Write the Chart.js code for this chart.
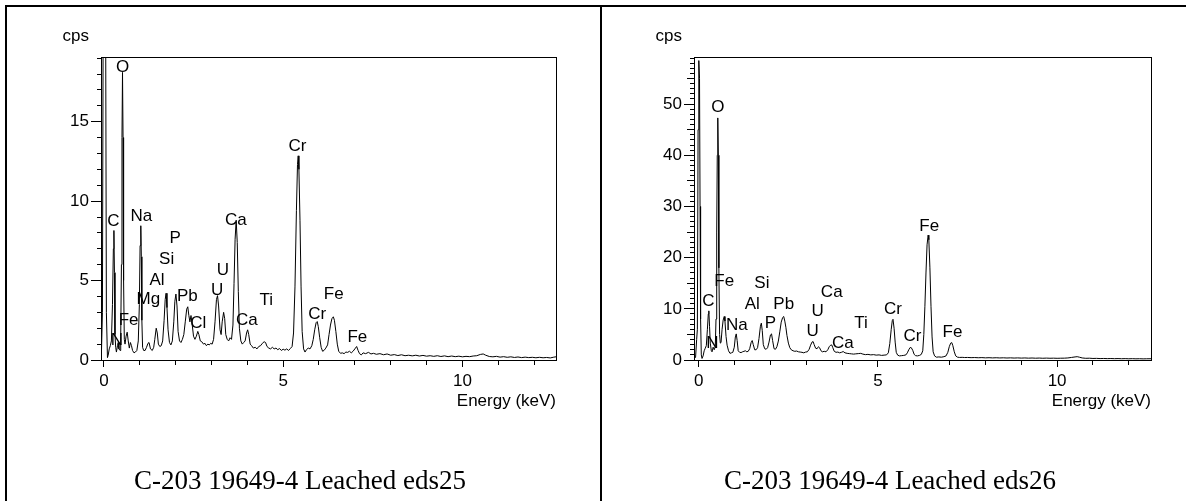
<!DOCTYPE html>
<html>
<head>
<meta charset="utf-8">
<script src="https://cdn.jsdelivr.net/npm/chart.js@4.4.1/dist/chart.umd.min.js"></script>
<style>
  html, body { margin: 0; padding: 0; background: #fff; }
  #page { position: relative; width: 1188px; height: 501px; overflow: hidden; }
  #page canvas { position: absolute; top: 0; }
  .rule { position: absolute; background: #000; }
  .caption {
    position: absolute; top: 464px; height: 32px; line-height: 32px;
    text-align: center; white-space: nowrap; color: #000;
    font-family: "Liberation Serif", "Times New Roman", serif; font-size: 27px;
  }
</style>
</head>
<body>
<div id="page">
  <canvas id="chart-eds25" width="600" height="420" style="left:0"></canvas>
  <canvas id="chart-eds26" width="588" height="420" style="left:600px"></canvas>
  <div class="rule" style="left:5px;top:5px;width:1181px;height:2px"></div>
  <div class="rule" style="left:5px;top:5px;width:2px;height:496px"></div>
  <div class="rule" style="left:600px;top:5px;width:2px;height:496px"></div>
  <div class="caption" style="left:0;width:600px">C-203 19649-4 Leached eds25</div>
  <div class="caption" style="left:596px;width:588px">C-203 19649-4 Leached eds26</div>
</div>
<script>
// --- eds25 spectrum (keV, cps) ---
const eds25Energy = [
  -0.07, -0.04, -0.01, 0.02, 0.04, 0.07, 0.1, 0.12, 0.15, 0.18, 0.21, 0.24, 0.265, 0.28, 0.295, 0.31,
  0.33, 0.35, 0.38, 0.4, 0.42, 0.45, 0.47, 0.49, 0.505, 0.52, 0.535, 0.55, 0.57, 0.59, 0.62, 0.65,
  0.68, 0.71, 0.74, 0.77, 0.8, 0.84, 0.88, 0.92, 0.96, 0.99, 1.01, 1.03, 1.045, 1.06, 1.08, 1.11,
  1.15, 1.19, 1.23, 1.26, 1.3, 1.35, 1.39, 1.42, 1.46, 1.49, 1.52, 1.56, 1.6, 1.64, 1.68, 1.71,
  1.735, 1.76, 1.79, 1.83, 1.87, 1.91, 1.95, 1.98, 2.01, 2.04, 2.07, 2.11, 2.15, 2.19, 2.23, 2.27,
  2.31, 2.34, 2.37, 2.4, 2.43, 2.46, 2.5, 2.54, 2.58, 2.62, 2.65, 2.69, 2.73, 2.78, 2.82, 2.86,
  2.9, 2.94, 2.98, 3.02, 3.06, 3.1, 3.14, 3.17, 3.2, 3.24, 3.27, 3.3, 3.34, 3.37, 3.4, 3.44,
  3.48, 3.52, 3.56, 3.6, 3.63, 3.66, 3.69, 3.72, 3.75, 3.78, 3.82, 3.86, 3.9, 3.94, 3.98, 4.01,
  4.04, 4.08, 4.12, 4.17, 4.22, 4.27, 4.32, 4.37, 4.42, 4.47, 4.51, 4.55, 4.6, 4.65, 4.7, 4.75,
  4.8, 4.85, 4.9, 4.95, 5.0, 5.05, 5.1, 5.15, 5.2, 5.25, 5.29, 5.33, 5.37, 5.4, 5.42, 5.44,
  5.47, 5.5, 5.53, 5.57, 5.61, 5.65, 5.7, 5.75, 5.8, 5.84, 5.88, 5.92, 5.95, 5.98, 6.02, 6.06,
  6.1, 6.14, 6.19, 6.24, 6.28, 6.32, 6.36, 6.4, 6.43, 6.47, 6.51, 6.55, 6.6, 6.65, 6.7, 6.75,
  6.8, 6.85, 6.9, 6.95, 7.0, 7.05, 7.09, 7.13, 7.18, 7.23, 7.3, 7.38, 7.45, 7.52, 7.6, 7.7,
  7.8, 7.9, 8.0, 8.1, 8.2, 8.3, 8.4, 8.5, 8.6, 8.7, 8.8, 8.9, 9.0, 9.1, 9.2, 9.3,
  9.4, 9.5, 9.6, 9.7, 9.8, 9.9, 10.0, 10.1, 10.2, 10.3, 10.4, 10.5, 10.58, 10.65, 10.75, 10.85,
  10.95, 11.05, 11.15, 11.25, 11.35, 11.45, 11.55, 11.65, 11.75, 11.85, 11.95, 12.05, 12.15, 12.25, 12.35, 12.45,
  12.55, 12.61
];
const eds25Cps = [
  0.2, 3, 30, 40, 30, 3, 0.15, 0.3, 0.7, 0.9, 1.2, 3.5, 7.0, 8.15, 5.5, 1.6,
  0.8, 0.5, 0.9, 1.1, 0.7, 0.6, 1.5, 6.0, 14.0, 18.1, 14.0, 5.0, 1.3, 1.0, 1.5, 1.75,
  1.2, 0.75, 1.1, 0.9, 0.6, 0.45, 0.5, 0.6, 1.2, 3.5, 7.2, 8.45, 6.5, 2.5, 0.8, 0.6,
  0.6, 0.8, 1.05, 1.1, 0.7, 0.6, 0.8, 1.3, 2.0, 1.7, 1.0, 0.85, 0.9, 1.2, 2.5, 3.8,
  4.2, 3.3, 1.9, 1.1, 0.95, 1.2, 2.4, 3.7, 4.15, 3.4, 1.8, 1.2, 1.1, 1.3, 1.6, 2.4,
  3.2, 3.35, 2.8, 2.4, 2.8, 2.3, 1.5, 1.3, 1.5, 1.8, 1.6, 1.2, 1.15, 1.0, 1.05, 0.9,
  1.0, 0.95, 1.05, 1.0, 1.3, 2.4, 3.8, 4.05, 3.4, 1.9, 1.6, 2.4, 3.0, 2.6, 1.6, 1.3,
  1.2, 1.4, 1.3, 2.2, 4.8, 7.6, 8.8, 7.4, 4.3, 2.0, 1.2, 1.0, 1.1, 1.2, 1.7, 1.9,
  1.6, 1.0, 0.9, 0.75, 0.8, 0.7, 0.85, 0.9, 1.05, 1.15, 1.1, 0.85, 0.75, 0.7, 0.8, 0.7,
  0.75, 0.65, 0.72, 0.6, 0.68, 0.62, 0.7, 0.6, 0.72, 0.85, 1.7, 4.6, 9.4, 12.3, 12.85, 12.0,
  8.8, 4.6, 1.8, 0.7, 0.5, 0.65, 0.75, 0.7, 0.9, 1.3, 1.9, 2.35, 2.42, 2.1, 1.4, 0.8,
  0.55, 0.6, 0.75, 0.95, 1.6, 2.2, 2.6, 2.72, 2.5, 1.8, 1.0, 0.55, 0.42, 0.45, 0.4, 0.5,
  0.48, 0.55, 0.45, 0.55, 0.7, 0.85, 0.6, 0.4, 0.32, 0.45, 0.4, 0.48, 0.38, 0.42, 0.36, 0.4,
  0.33, 0.38, 0.3, 0.34, 0.28, 0.33, 0.27, 0.3, 0.26, 0.3, 0.25, 0.29, 0.24, 0.27, 0.23, 0.27,
  0.22, 0.26, 0.21, 0.25, 0.21, 0.24, 0.2, 0.23, 0.21, 0.25, 0.27, 0.35, 0.38, 0.3, 0.22, 0.2,
  0.23, 0.18, 0.21, 0.17, 0.2, 0.16, 0.19, 0.15, 0.18, 0.15, 0.17, 0.14, 0.17, 0.14, 0.16, 0.13,
  0.18, 0.2
];
const eds25PeakNames = ['O', 'C', 'Na', 'P', 'Si', 'Al', 'Mg', 'Fe', 'N', 'Pb', 'Cl', 'U', 'U', 'Ca', 'Ca', 'Ti', 'Cr', 'Cr', 'Fe', 'Fe'];
const eds25PeakEnergy = [0.52, 0.265, 1.045, 1.99, 1.75, 1.48, 1.24, 0.69, 0.36, 2.33, 2.63, 3.32, 3.16, 3.68, 3.99, 4.53, 5.4, 5.95, 6.41, 7.07];
const eds25PeakCps = [18.43, 8.71, 9.07, 7.67, 6.34, 5.04, 3.8, 2.52, 1.24, 3.99, 2.29, 5.67, 4.41, 8.8, 2.48, 3.78, 13.48, 2.9, 4.16, 1.43];
const eds25YLabels = [0, 5, 10, 15];

// --- eds26 spectrum (keV, cps) ---
const eds26Energy = [
  -0.13, -0.09, -0.06, -0.04, -0.02, 0.0, 0.02, 0.035, 0.05, 0.07, 0.09, 0.12, 0.15, 0.18, 0.21, 0.24,
  0.265, 0.28, 0.3, 0.32, 0.35, 0.37, 0.4, 0.43, 0.46, 0.48, 0.5, 0.515, 0.53, 0.545, 0.56, 0.58,
  0.6, 0.62, 0.65, 0.68, 0.71, 0.73, 0.76, 0.79, 0.83, 0.87, 0.91, 0.95, 0.99, 1.02, 1.045, 1.07,
  1.1, 1.14, 1.18, 1.22, 1.26, 1.3, 1.34, 1.38, 1.42, 1.46, 1.49, 1.52, 1.56, 1.6, 1.64, 1.68,
  1.72, 1.745, 1.77, 1.8, 1.84, 1.88, 1.92, 1.96, 2.0, 2.03, 2.06, 2.1, 2.14, 2.18, 2.22, 2.26,
  2.3, 2.34, 2.37, 2.4, 2.43, 2.46, 2.5, 2.54, 2.58, 2.63, 2.68, 2.73, 2.78, 2.83, 2.88, 2.93,
  2.98, 3.03, 3.08, 3.12, 3.16, 3.19, 3.22, 3.26, 3.3, 3.34, 3.37, 3.41, 3.45, 3.5, 3.55, 3.6,
  3.64, 3.68, 3.71, 3.74, 3.78, 3.83, 3.88, 3.93, 3.98, 4.03, 4.08, 4.14, 4.2, 4.26, 4.32, 4.38,
  4.45, 4.52, 4.58, 4.65, 4.72, 4.8, 4.88, 4.95, 5.03, 5.1, 5.17, 5.24, 5.29, 5.33, 5.37, 5.4,
  5.42, 5.45, 5.48, 5.51, 5.55, 5.6, 5.66, 5.72, 5.78, 5.82, 5.86, 5.9, 5.93, 5.97, 6.01, 6.05,
  6.1, 6.16, 6.21, 6.25, 6.28, 6.31, 6.34, 6.37, 6.4, 6.42, 6.45, 6.48, 6.51, 6.54, 6.58, 6.63,
  6.7, 6.77, 6.84, 6.9, 6.95, 6.99, 7.03, 7.06, 7.09, 7.13, 7.17, 7.22, 7.28, 7.35, 7.42, 7.5,
  7.6, 7.7, 7.8, 7.9, 8.0, 8.1, 8.2, 8.3, 8.4, 8.5, 8.6, 8.7, 8.8, 8.9, 9.0, 9.1,
  9.2, 9.3, 9.4, 9.5, 9.6, 9.7, 9.8, 9.9, 10.0, 10.1, 10.2, 10.3, 10.4, 10.5, 10.56, 10.62,
  10.7, 10.8, 10.9, 11.0, 11.1, 11.2, 11.3, 11.4, 11.5, 11.6, 11.7, 11.8, 11.9, 12.0, 12.1, 12.2,
  12.3, 12.4, 12.5, 12.63
];
const eds26Cps = [
  0.3, 0.5, 4, 6, 45, 58.5, 55, 30, 8, 1, 0.3, 0.8, 1.8, 2.3, 2.8, 6.0,
  9.0, 9.6, 6.5, 3.3, 1.8, 1.6, 2.5, 2.0, 2.6, 8, 25, 40, 47.3, 40, 18, 5,
  3.3, 3.4, 6.0, 7.8, 8.5, 7.6, 4.6, 2.9, 1.8, 1.3, 1.4, 1.5, 2.5, 4.5, 5.1, 3.8,
  1.8, 1.5, 1.45, 1.6, 1.7, 1.8, 1.6, 1.7, 2.2, 3.4, 3.8, 3.0, 2.0, 2.0, 2.4, 4.2,
  6.6, 7.2, 5.8, 3.0, 2.2, 2.1, 2.4, 3.5, 4.9, 5.1, 3.8, 2.2, 2.1, 2.6, 3.7, 5.5,
  7.4, 8.3, 8.5, 7.6, 6.4, 4.8, 3.3, 2.4, 2.0, 1.8, 1.7, 1.75, 1.6, 1.55, 1.5, 1.4,
  1.55, 1.6, 2.1, 2.9, 3.5, 3.6, 3.0, 2.3, 2.2, 2.6, 2.4, 1.8, 1.6, 1.7, 1.6, 2.0,
  2.6, 2.9, 2.95, 2.4, 1.7, 1.5, 1.55, 1.4, 1.5, 1.65, 1.4, 1.3, 1.25, 1.2, 1.15, 1.2,
  1.25, 1.3, 1.15, 1.05, 1.1, 1.0, 1.05, 0.95, 1.0, 0.9, 0.95, 1.0, 1.4, 3.2, 6.0, 7.7,
  7.95, 6.2, 3.5, 1.5, 0.95, 0.8, 0.85, 0.9, 1.0, 1.4, 2.0, 2.45, 2.4, 1.9, 1.1, 0.85,
  0.8, 0.9, 1.1, 1.8, 5.0, 10.5, 17.0, 22.5, 24.4, 23.5, 18.0, 10.5, 4.5, 1.6, 0.8, 0.55,
  0.6, 0.55, 0.65, 0.8, 1.5, 2.6, 3.3, 3.4, 2.8, 1.6, 0.8, 0.55, 0.5, 0.52, 0.48, 0.5,
  0.46, 0.48, 0.44, 0.47, 0.42, 0.45, 0.41, 0.44, 0.4, 0.43, 0.39, 0.42, 0.38, 0.41, 0.37, 0.4,
  0.36, 0.39, 0.35, 0.38, 0.34, 0.37, 0.34, 0.36, 0.33, 0.35, 0.36, 0.4, 0.5, 0.6, 0.65, 0.55,
  0.4, 0.33, 0.35, 0.3, 0.32, 0.28, 0.3, 0.27, 0.29, 0.26, 0.28, 0.25, 0.27, 0.24, 0.26, 0.23,
  0.25, 0.22, 0.24, 0.25
];
const eds26PeakNames = ['O', 'C', 'Fe', 'N', 'Na', 'Al', 'Si', 'P', 'Pb', 'U', 'U', 'Ca', 'Ca', 'Ti', 'Cr', 'Cr', 'Fe', 'Fe'];
const eds26PeakEnergy = [0.53, 0.27, 0.71, 0.38, 1.06, 1.49, 1.76, 2.0, 2.37, 3.32, 3.18, 3.71, 4.02, 4.53, 5.42, 5.96, 6.43, 7.08];
const eds26PeakCps = [49.3, 11.4, 15.45, 3.19, 6.84, 10.8, 15.0, 7.17, 10.8, 9.45, 5.54, 13.17, 3.19, 7.17, 9.9, 4.56, 26.2, 5.34];
const eds26YLabels = [0, 10, 20, 30, 40, 50];

const xTickLabels = [0, 5, 10];

const FONT = 'Arial, "Liberation Sans", sans-serif';
Chart.defaults.font.family = FONT;
Chart.defaults.font.size = 17;
Chart.defaults.color = '#000';

// peak labels, plot frame, axis captions
const spectrumText = {
  id: 'spectrumText',
  afterDatasetsDraw(chart, args, opts) {
    const { ctx, chartArea: a } = chart;
    const xs = chart.scales.x;
    const ys = chart.scales.y;
    ctx.save();
    ctx.fillStyle = '#000';
    ctx.font = '17px ' + FONT;
    ctx.textAlign = 'center';
    ctx.textBaseline = 'middle';
    opts.names.forEach((name, i) => {
      ctx.fillText(name, xs.getPixelForValue(opts.energy[i]), ys.getPixelForValue(opts.cps[i]));
    });
    const l = Math.round(a.left - 0.5) + 0.5;
    const t = Math.round(a.top - 0.5) + 0.5;
    const r = Math.round(a.right - 0.5) + 0.5;
    const b = Math.round(a.bottom - 0.5) + 0.5;
    ctx.strokeStyle = '#000';
    ctx.lineWidth = 1;
    ctx.strokeRect(l, t, r - l, b - t);
    ctx.textBaseline = 'alphabetic';
    ctx.textAlign = 'right';
    ctx.fillText('cps', a.left - 12, 41);
    ctx.fillText('Energy (keV)', a.right, a.bottom + 46);
    ctx.restore();
  },
};

function spectrumScales(xMin, xMax, yMax, yLabels, midStep) {
  return {
    x: {
      type: 'linear',
      min: xMin,
      max: xMax,
      afterFit: (s) => { s.height = 40; },
      border: { display: true, color: '#000', width: 1 },
      grid: {
        drawOnChartArea: false,
        drawTicks: true,
        tickLength: 7,
        tickColor: '#000',
        tickWidth: 1,
        tickBorderDash: (c) => (c.tick && c.tick.value % 5 === 0 ? [] : [4, 100]),
      },
      ticks: {
        stepSize: 1,
        includeBounds: false,
        autoSkip: false,
        maxTicksLimit: 1000,
        maxRotation: 0,
        padding: 4,
        callback: (v) => (xTickLabels.includes(v) ? String(v) : ''),
      },
    },
    y: {
      type: 'linear',
      min: 0,
      max: yMax,
      afterFit: (s) => { s.width = 40; },
      border: { display: true, color: '#000', width: 1 },
      grid: {
        drawOnChartArea: false,
        drawTicks: true,
        tickLength: 10,
        tickColor: '#000',
        tickWidth: 1,
        tickBorderDash: (c) => {
          const v = c.tick ? c.tick.value : 0;
          if (yLabels.includes(v)) return [];
          if (midStep && v % midStep === 0) return [0, 3, 7, 100];
          return [0, 6, 4, 100];
        },
      },
      ticks: {
        stepSize: 1,
        includeBounds: false,
        autoSkip: false,
        maxTicksLimit: 1000,
        padding: 2,
        callback: (v) => (yLabels.includes(v) ? String(v) : ''),
      },
    },
  };
}

function makeSpectrum(canvasId, energy, cps, cfg) {
  return new Chart(document.getElementById(canvasId), {
    type: 'line',
    data: {
      datasets: [{
        data: energy.map((e, i) => ({ x: e, y: cps[i] })),
        borderColor: '#000',
        borderWidth: 1,
        pointRadius: 0,
        tension: 0,
        fill: false,
      }],
    },
    options: {
      responsive: false,
      animation: false,
      events: [],
      devicePixelRatio: 1,
      layout: { padding: cfg.padding },
      plugins: {
        legend: { display: false },
        tooltip: { enabled: false },
        spectrumText: cfg.labels,
      },
      scales: spectrumScales(cfg.xMin, cfg.xMax, cfg.yMax, cfg.yLabels, cfg.midStep),
    },
    plugins: [spectrumText],
  });
}

makeSpectrum('chart-eds25', eds25Energy, eds25Cps, {
  padding: { left: 61, top: 57, right: 44, bottom: 20 },
  xMin: -0.08, xMax: 12.61, yMax: 19.07, yLabels: eds25YLabels, midStep: 0,
  labels: { names: eds25PeakNames, energy: eds25PeakEnergy, cps: eds25PeakCps },
});

makeSpectrum('chart-eds26', eds26Energy, eds26Cps, {
  padding: { left: 54, top: 57, right: 37, bottom: 20 },
  xMin: -0.134, xMax: 12.62, yMax: 59.2, yLabels: eds26YLabels, midStep: 5,
  labels: { names: eds26PeakNames, energy: eds26PeakEnergy, cps: eds26PeakCps },
});
</script>
</body>
</html>
